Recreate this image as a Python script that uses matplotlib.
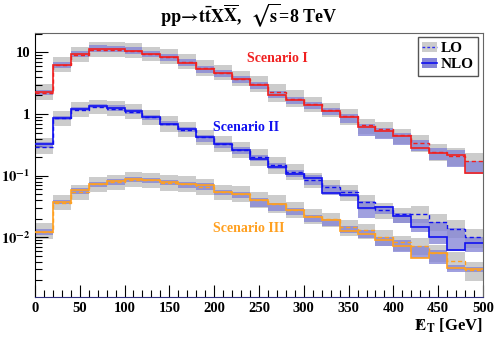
import numpy as np
import matplotlib
matplotlib.use("Agg")
import matplotlib.pyplot as plt
from matplotlib.patches import Patch
from matplotlib.lines import Line2D
from matplotlib.ticker import FixedLocator, LogLocator, NullFormatter, MultipleLocator

plt.rcParams['font.family'] = ['Liberation Serif', 'DejaVu Serif']
plt.rcParams['font.weight'] = 'bold'
plt.rcParams['mathtext.fontset'] = 'stix'

# missing E_T bins [GeV]
edges = np.arange(0, 520, 20)

# Scenario I (red)
s1_lo = [2.23, 6.22, 9.04, 11.1, 11.1, 10.7, 9.38, 8.55, 7.09, 5.56, 4.70, 3.76, 3.06,
         2.24, 1.75, 1.45, 1.16, 0.925, 0.660, 0.569, 0.454, 0.333, 0.241, 0.207, 0.172]
s1_nlo = [2.24, 6.34, 9.38, 11.2, 11.2, 10.6, 9.38, 8.30, 6.78, 5.30, 4.56, 3.65, 2.94,
          2.03, 1.68, 1.38, 1.13, 0.88, 0.61, 0.53, 0.446, 0.277, 0.236, 0.215, 0.109]
s1_nlo_hi = [1.10, 1.12, 1.12, 1.16, 1.14, 1.14, 1.14, 1.14, 1.14, 1.14, 1.14, 1.13, 1.13,
             1.16, 1.13, 1.12, 1.12, 1.13, 1.11, 1.12, 1.09, 1.36, 1.21, 1.21, 1.58]
s1_nlo_lo = [0.91, 0.89, 0.89, 0.90, 0.89, 0.89, 0.89, 0.89, 0.89, 0.88, 0.88, 0.88, 0.88,
             0.88, 0.86, 0.86, 0.85, 0.82, 0.71, 0.75, 0.70, 0.91, 0.76, 0.63, 0.98]

# Scenario II (blue)
s2_lo = [0.294, 0.848, 1.18, 1.31, 1.22, 1.09, 0.881, 0.686, 0.558, 0.417, 0.328, 0.259, 0.197,
         0.148, 0.113, 0.0845, 0.0658, 0.0534, 0.0379, 0.0272, 0.0235, 0.0235, 0.0175, 0.0138, 0.00996]
s2_nlo = [0.321, 0.848, 1.20, 1.36, 1.25, 1.11, 0.881, 0.698, 0.562, 0.417, 0.325, 0.257, 0.185,
          0.139, 0.105, 0.092, 0.0514, 0.0482, 0.0302, 0.0312, 0.0218, 0.0148, 0.0101, 0.00618, 0.00817]
s2_nlo_hi = [1.10, 1.08, 1.08, 1.08, 1.10, 1.10, 1.10, 1.10, 1.10, 1.09, 1.09, 1.14, 1.16,
             1.14, 1.16, 1.11, 1.36, 1.21, 1.27, 1.04, 1.12, 1.35, 1.75, 2.25, 1.24]
s2_nlo_lo = [0.89, 0.93, 0.93, 0.91, 0.91, 0.91, 0.91, 0.91, 0.91, 0.85, 0.85, 0.87, 0.94,
             0.91, 0.91, 0.76, 0.94, 0.92, 0.69, 0.76, 0.77, 0.83, 0.78, 0.97, 0.71]

# Scenario III (orange)
s3_lo = [0.01225, 0.0362, 0.0534, 0.0720, 0.0776, 0.0855, 0.0836, 0.0764, 0.0736, 0.0651, 0.0534,
         0.0501, 0.0405, 0.0348, 0.0275, 0.0220, 0.0195, 0.0148, 0.0129, 0.01004, 0.00832, 0.00717,
         0.00552, 0.00417, 0.00290]
s3_nlo = [0.01197, 0.0376, 0.0582, 0.0736, 0.0814, 0.0868, 0.0845, 0.0776, 0.0720, 0.0701, 0.0546,
          0.0495, 0.0400, 0.0341, 0.0275, 0.0214, 0.0190, 0.0127, 0.0111, 0.00914, 0.00709, 0.00467,
          0.00558, 0.00315, 0.00309]
s3_nlo_hi = [1.12, 1.07, 1.07, 1.08, 1.08, 1.08, 1.08, 1.08, 1.10, 1.07, 1.07, 1.08, 1.07,
             1.06, 1.07, 1.07, 1.03, 1.19, 1.17, 1.11, 1.27, 1.54, 1.11, 1.12, 1.07]
s3_nlo_lo = [0.90, 0.91, 0.88, 0.88, 0.88, 0.91, 0.91, 0.91, 0.89, 0.83, 0.88, 0.86, 0.78,
             0.78, 0.83, 0.83, 0.81, 0.93, 0.86, 0.78, 0.82, 0.97, 0.66, 0.87, 0.89]

# LO scale band (ratio to LO), same for all scenarios
lo_band_hi = [1.40, 1.33, 1.33, 1.31, 1.31, 1.32, 1.32, 1.33, 1.33, 1.34, 1.34, 1.34, 1.35,
              1.38, 1.38, 1.30, 1.28, 1.30, 1.28, 1.30, 1.28, 1.36, 1.36, 1.38, 1.35]
lo_band_lo = [0.75, 0.76, 0.76, 0.76, 0.76, 0.76, 0.76, 0.75, 0.75, 0.75, 0.75, 0.75, 0.74,
              0.71, 0.74, 0.74, 0.76, 0.72, 0.73, 0.73, 0.72, 0.72, 0.72, 0.70, 0.66]

scenarios = [
    ("Scenario I", '#f02020', s1_lo, s1_nlo, s1_nlo_lo, s1_nlo_hi, 270, 8.1),
    ("Scenario II", '#1010f0', s2_lo, s2_nlo, s2_nlo_lo, s2_nlo_hi, 236, 0.61),
    ("Scenario III", '#ffa020', s3_lo, s3_nlo, s3_nlo_lo, s3_nlo_hi, 239, 0.0141),
]

fig = plt.figure(figsize=(4.98, 3.38), dpi=100)
ax = fig.add_axes([0.070, 0.122, 0.900, 0.779])

gray = '#cccccc'
bandblue = (0.52, 0.52, 0.84, 0.78)

# LO bands
for name, col, lo, nlo, nlo_lo, nlo_hi, tx, ty in scenarios:
    lo = np.array(lo)
    ax.stairs(lo * np.array(lo_band_hi), edges, baseline=lo * np.array(lo_band_lo),
              fill=True, color=gray, lw=0, zorder=1)
# NLO bands
for name, col, lo, nlo, nlo_lo, nlo_hi, tx, ty in scenarios:
    nlo = np.array(nlo)
    ax.stairs(nlo * np.array(nlo_hi), edges, baseline=nlo * np.array(nlo_lo),
              fill=True, color=bandblue, lw=0, zorder=2)
# central lines
for name, col, lo, nlo, nlo_lo, nlo_hi, tx, ty in scenarios:
    ax.stairs(lo, edges, baseline=None, color=col, lw=1.0, ls=(0, (3, 2)), zorder=3)
    ax.stairs(nlo, edges, baseline=None, color=col, lw=1.2, zorder=4)
    ax.text(tx, ty, name, color=col, fontsize=10, fontweight='bold', ha='center', va='center')

ax.set_yscale('log')
ax.set_xlim(0, 500)
ax.set_ylim(1.08e-3, 20.3)

ax.yaxis.set_major_locator(FixedLocator([0.01, 0.1, 1, 10]))
ax.set_yticklabels([r'$\mathbf{10^{-2}}$', r'$\mathbf{10^{-1}}$', '1', '10'])
ax.yaxis.set_minor_locator(LogLocator(base=10, subs=np.arange(2, 10)))
ax.yaxis.set_minor_formatter(NullFormatter())
ax.xaxis.set_major_locator(MultipleLocator(50))
ax.xaxis.set_minor_locator(MultipleLocator(10))

ax.tick_params(which='both', direction='in', top=False, right=False, labelsize=10.5)
ax.tick_params(which='major', length=9, width=0.8)
ax.tick_params(which='minor', length=5, width=0.8)
ax.tick_params(axis='x', pad=4)
for lab in ax.get_xticklabels() + ax.get_yticklabels():
    lab.set_fontweight('bold')

for s in ['top', 'right']:
    ax.spines[s].set_color('#666666')
ax.spines['bottom'].set_color('#303080')

fig.text(0.5, 0.955, r'$\mathbf{pp\!\rightarrow\! t\bar{t}X\overline{X}}$,  $\sqrt{\mathbf{s}}$=8 TeV',
         ha='center', va='center', fontsize=13, fontweight='bold')
fig.text(0.970, 0.036, r'$\mathbf{/\!\!\!E}_{\mathbf{T}}$ [GeV]', ha='right', va='center',
         fontsize=12, fontweight='bold')

h_lo = (Patch(facecolor=gray, edgecolor='none'), Line2D([], [], color='#3030f0', lw=1.0, ls=(0, (2, 1.5))))
h_nlo = (Patch(facecolor=(0.52, 0.52, 0.84), edgecolor='none'), Line2D([], [], color='#1010f0', lw=1.2))
leg = ax.legend([h_lo, h_nlo], ['LO', 'NLO'], loc='upper right', bbox_to_anchor=(0.989, 0.986),
                borderaxespad=0, fancybox=False, framealpha=1, edgecolor='#555555',
                prop={'weight': 'bold', 'size': 11}, handlelength=1.0, handletextpad=0.2,
                labelspacing=0.15, borderpad=0.3)
leg.get_frame().set_linewidth(1.0)

fig.savefig('out.png', dpi=100)
